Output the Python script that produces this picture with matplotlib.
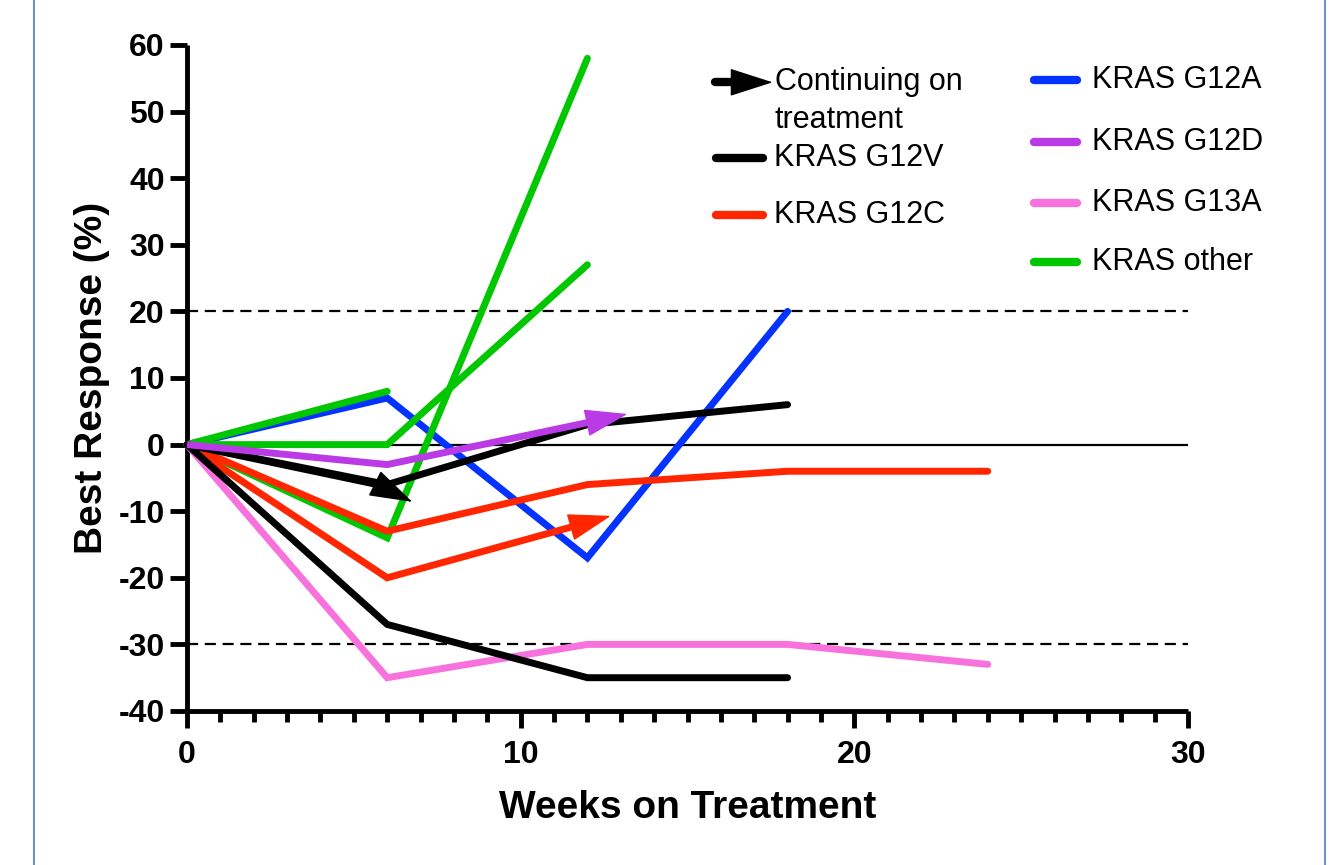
import matplotlib
matplotlib.use("Agg")
import matplotlib.pyplot as plt
from matplotlib.lines import Line2D

plt.rcParams["font.family"] = ["Liberation Sans", "DejaVu Sans"]
plt.rcParams["axes.unicode_minus"] = False

# weeks on treatment / best response (%) per patient
g12v_1_x = [0, 6, 12, 18]
g12v_1_y = [0, -27, -35, -35]
g12v_2_x = [0, 6, 12, 18]
g12v_2_y = [0, -6, 3, 6]
g12v_3_x = [0, 5.7, 6.75]          # last point = arrow tip (continuing)
g12v_3_y = [0, -6, -8.6]

g12c_1_x = [0, 6, 12, 18, 24]
g12c_1_y = [0, -13, -6, -4, -4]
g12c_2_x = [0, 6, 11.5, 12.7]      # continuing
g12c_2_y = [0, -20, -12.4, -10.7]

g12a_x = [0, 6, 12, 18]
g12a_y = [0, 7, -17, 20]

g12d_x = [0, 6, 12.0, 13.2]        # continuing
g12d_y = [0, -3, 3.3, 4.6]

g13a_x = [0, 6, 12, 18, 24]
g13a_y = [0, -35, -30, -30, -33]

other_1_x = [0, 6]
other_1_y = [0, 8]
other_2_x = [0, 6, 12]
other_2_y = [0, 0, 27]
other_3_x = [0, 6, 12]
other_3_y = [0, -14, 58]

c_black = "#000000"
c_red = "#FF2600"
c_blue = "#0433FF"
c_purple = "#BA3AE6"
c_pink = "#F872DE"
c_green = "#00C700"

LW = 5
HEAD = "-|>,head_length=1.4,head_width=0.45"

fig = plt.figure(figsize=(13.34, 8.65), dpi=100)
ax = fig.add_axes([187 / 1334, 1 - 711 / 865, 1001 / 1334, 666 / 865])

# page border lines
for xf in (34 / 1334, 1325 / 1334):
    fig.add_artist(Line2D([xf, xf], [0, 1], transform=fig.transFigure,
                          color="#6F8FD0", lw=1.5))

# reference lines
ax.axhline(0, color="black", lw=1.6, zorder=1)
ax.axhline(20, color="black", lw=1.6, ls=(0, (5, 3)), zorder=1)
ax.axhline(-30, color="black", lw=1.6, ls=(0, (5, 3)), zorder=1)


def head(tip, base, color, z, coords="data"):
    ax.annotate("", xy=tip, xytext=base, xycoords=coords, textcoords=coords,
                arrowprops=dict(arrowstyle=HEAD, color=color, lw=1,
                                shrinkA=0, shrinkB=0, mutation_scale=20),
                zorder=z)


def trace(x, y, color, z, arrow=False):
    if arrow:
        ax.plot(x[:-1], y[:-1], color=color, lw=LW, solid_capstyle="butt",
                solid_joinstyle="miter", zorder=z, clip_on=False)
        head((x[-1], y[-1]), (x[-2], y[-2]), color, z + 0.5)
    else:
        ax.plot(x, y, color=color, lw=LW, solid_capstyle="round",
                solid_joinstyle="miter", zorder=z, clip_on=False)


trace(g12a_x, g12a_y, c_blue, 2)
trace(other_1_x, other_1_y, c_green, 3)
trace(other_2_x, other_2_y, c_green, 3)
trace(other_3_x, other_3_y, c_green, 3)
trace(g12c_1_x, g12c_1_y, c_red, 4)
trace(g12c_2_x, g12c_2_y, c_red, 4, arrow=True)
trace(g13a_x, g13a_y, c_pink, 5)
trace(g12v_1_x, g12v_1_y, c_black, 6)
trace(g12v_2_x, g12v_2_y, c_black, 6)
trace(g12v_3_x, g12v_3_y, c_black, 6, arrow=True)
trace(g12d_x, g12d_y, c_purple, 7, arrow=True)

ax.set_xlim(0, 30)
ax.set_ylim(-40, 60)
ax.set_xticks([0, 10, 20, 30])
ax.set_xticks(range(1, 30), minor=True)
ax.set_yticks(range(-40, 61, 10))
for s in ("top", "right"):
    ax.spines[s].set_visible(False)
for s in ("left", "bottom"):
    ax.spines[s].set_linewidth(3.5)
    ax.spines[s].set_capstyle("butt")
ax.tick_params(axis="both", which="major", length=12, width=3.5, labelsize=23)
ax.tick_params(axis="x", which="major", pad=9)
ax.tick_params(axis="y", which="major", pad=4)
ax.tick_params(axis="x", which="minor", length=8, width=3.5)
for lab in ax.get_xticklabels() + ax.get_yticklabels():
    lab.set_fontweight("bold")

ax.set_xlabel("Weeks on Treatment", fontsize=28, fontweight="bold", labelpad=14)
ax.set_ylabel("Best Response (%)", fontsize=28, fontweight="bold", labelpad=6)

# legend, drawn by hand in axes fraction
LEG_FS = 22
tr = ax.transAxes
ax.add_line(Line2D([0.527, 0.55], [0.944, 0.944], transform=tr, color="black",
                   lw=6, solid_capstyle="round", clip_on=False))
head((0.585, 0.944), (0.547, 0.944), "black", 5, coords="axes fraction")
ax.text(0.587, 0.944, "Continuing on", transform=tr, fontsize=LEG_FS,
        va="center", ha="left")
ax.text(0.587, 0.887, "treatment", transform=tr, fontsize=LEG_FS,
        va="center", ha="left")

col1 = [("KRAS G12V", c_black, 0.830), ("KRAS G12C", c_red, 0.745)]
col2 = [("KRAS G12A", c_blue, 0.947), ("KRAS G12D", c_purple, 0.854),
        ("KRAS G13A", c_pink, 0.763), ("KRAS other", c_green, 0.674)]
for labels, x0, x1, xt in ((col1, 0.528, 0.575, 0.586), (col2, 0.846, 0.889, 0.904)):
    for text, color, yy in labels:
        ax.add_line(Line2D([x0, x1], [yy, yy], transform=tr, color=color,
                           lw=6, solid_capstyle="round", clip_on=False))
        ax.text(xt, yy, text, transform=tr, fontsize=LEG_FS, va="center", ha="left")

fig.savefig("out.png", dpi=100)
